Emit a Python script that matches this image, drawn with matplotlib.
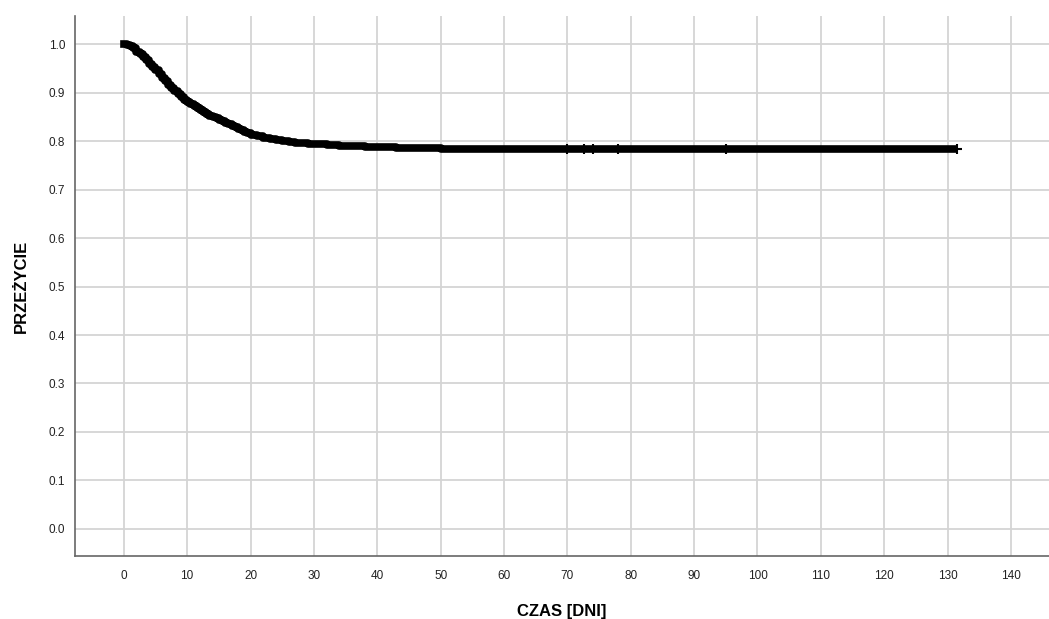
import numpy as np
import matplotlib.pyplot as plt

plt.rcParams['font.family'] = ['Liberation Sans', 'DejaVu Sans']

# Kaplan-Meier estimate: event times (days) and survival after each step
time_days = [0, 0.5, 1, 1.5, 2, 2.5, 3, 3.5, 4, 4.5, 5, 5.5, 6, 6.5, 7, 7.5,
             8, 8.5, 9, 9.5, 10, 10.5, 11, 11.5, 12, 12.5, 13, 13.5, 14, 14.5,
             15, 15.5, 16, 16.5, 17, 17.5, 18, 18.5, 19, 19.5, 20, 21, 22, 23,
             24, 25, 26, 27, 28, 29, 30, 32, 34, 36, 38, 40, 43, 46, 50, 55,
             131]
survival = [1.000, 0.999, 0.997, 0.992, 0.985, 0.980, 0.974, 0.967, 0.960,
            0.953, 0.946, 0.938, 0.931, 0.924, 0.917, 0.910, 0.904, 0.898,
            0.892, 0.886, 0.881, 0.876, 0.872, 0.868, 0.864, 0.860, 0.857,
            0.853, 0.850, 0.847, 0.844, 0.841, 0.838, 0.835, 0.832, 0.829,
            0.826, 0.823, 0.820, 0.817, 0.813, 0.810, 0.807, 0.804, 0.802,
            0.800, 0.799, 0.797, 0.796, 0.795, 0.794, 0.792, 0.791, 0.790,
            0.789, 0.788, 0.787, 0.786, 0.784, 0.783, 0.783]

# censored observations on the plateau
censor_days = [70, 72.7, 74, 78, 95, 131.5]
censor_surv = [0.783, 0.783, 0.783, 0.783, 0.783, 0.783]

xticks = list(range(0, 150, 10))
yticks = [round(0.1 * i, 1) for i in range(11)]

fig = plt.figure(figsize=(10.49, 6.19), dpi=100)
ax = fig.add_axes([0.0715, 0.1018, 0.9285, 0.872])

ax.step(time_days, survival, where='post', color='black', linewidth=5.5,
        solid_joinstyle='round', zorder=3)
ax.plot(censor_days, censor_surv, linestyle='none', marker='+', color='black',
        markersize=7, markeredgewidth=1.5, zorder=4)

ax.set_xlim(-7.7, 146)
ax.set_ylim(-0.056, 1.058)
ax.set_xticks(xticks)
ax.set_yticks(yticks)
ax.set_yticklabels([f'{v:.1f}' for v in yticks])
ax.tick_params(length=0, labelsize=8.5, colors='#222222')
ax.tick_params(axis='x', pad=10)
ax.tick_params(axis='y', pad=7)

ax.grid(True, color='#d4d4d4', linewidth=1.3)
ax.set_axisbelow(True)
for side in ('top', 'right'):
    ax.spines[side].set_visible(False)
for side in ('left', 'bottom'):
    ax.spines[side].set_color('#666666')
    ax.spines[side].set_linewidth(1.2)

ax.set_xlabel('CZAS [DNI]', fontsize=12, fontweight='bold', labelpad=16)
ax.set_ylabel('PRZEŻYCIE', fontsize=12, fontweight='bold', labelpad=14)

fig.savefig('out.png', dpi=100)
